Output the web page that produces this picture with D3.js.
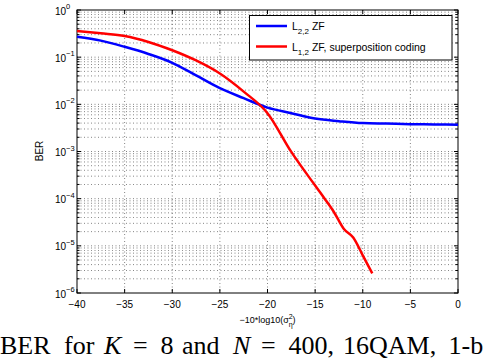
<!DOCTYPE html>
<html><head><meta charset="utf-8">
<script src="https://cdn.jsdelivr.net/npm/d3@7"></script>
<style>body{margin:0;background:#fff}svg{display:block}</style>
</head><body>
<svg id="c" width="490" height="360"></svg>
<script>
const xTicks = [-40,-35,-30,-25,-20,-15,-10,-5,0];
const yExps = [0,-1,-2,-3,-4,-5,-6];

const blueX = [-40,-37.5,-35,-32.5,-30,-27.5,-25,-22.5,-20,-17.5,-15,-12.5,-10,-7.5,-5,-2.5,0];
const blueY = [0.27,0.224,0.166,0.117,0.076,0.041,0.022,0.0135,0.0085,0.0065,0.005,0.0044,0.0040,0.0039,0.0038,0.00375,0.0037];

const redX = [-40,-37.5,-35,-32.5,-30,-27.5,-25,-22.5,-20,-17.5,-15,-14,-13,-12,-11,-10,-9];
const redY = [0.36,0.32,0.28,0.21,0.14,0.085,0.045,0.0186,0.0065,0.00098,0.00019,0.0001,0.000051,0.000023,0.000015,0.0000063,0.0000026];

const seriesNames = ["L_{2,2} ZF","L_{1,2} ZF, superposition coding"];

const svg = d3.select("#c");
const L=77,R=458,T=10,B=293;
const x = d3.scaleLinear().domain([-40,0]).range([L,R]);
const y = d3.scaleLog().domain([1e-6,1]).range([B,T]);

// grid
const g = svg.append("g");
const gridStyle = s => s.attr("stroke","#000").attr("stroke-width",0.8).attr("stroke-dasharray","1,2.5").attr("opacity",0.6);
xTicks.slice(1,-1).forEach(v=>{
  g.append("line").attr("x1",x(v)).attr("x2",x(v)).attr("y1",T).attr("y2",B).call(gridStyle);
});
const minor=[];
for(let e=-6;e<0;e++){ for(let m=1;m<10;m++){ minor.push(m*Math.pow(10,e)); } }
minor.forEach(v=>{
  if(v<=1e-6*1.0001) return;
  g.append("line").attr("x1",L).attr("x2",R).attr("y1",y(v)).attr("y2",y(v)).call(gridStyle);
});

// ticks
const tk = svg.append("g").attr("stroke","#000").attr("stroke-width",1);
xTicks.forEach(v=>{
  tk.append("line").attr("x1",x(v)).attr("x2",x(v)).attr("y1",B).attr("y2",B-4);
  tk.append("line").attr("x1",x(v)).attr("x2",x(v)).attr("y1",T).attr("y2",T+4);
});
minor.concat([1]).forEach(v=>{
  const major = Math.abs(Math.log10(v)-Math.round(Math.log10(v)))<1e-9;
  const len = major?4:2.5;
  tk.append("line").attr("x1",L).attr("x2",L+len).attr("y1",y(v)).attr("y2",y(v));
  tk.append("line").attr("x1",R).attr("x2",R-len).attr("y1",y(v)).attr("y2",y(v));
});

// frame
svg.append("rect").attr("x",L).attr("y",T).attr("width",R-L).attr("height",B-T)
  .attr("fill","none").attr("stroke","#000").attr("stroke-width",1);

// lines
const line = d3.line().x(d=>x(d[0])).y(d=>y(d[1])).curve(d3.curveMonotoneX);
svg.append("path").datum(blueX.map((v,i)=>[v,blueY[i]])).attr("d",line)
  .attr("fill","none").attr("stroke","#0000ff").attr("stroke-width",2.5);
svg.append("path").datum(redX.map((v,i)=>[v,redY[i]])).attr("d",line)
  .attr("fill","none").attr("stroke","#ff0000").attr("stroke-width",2.5);

const font = "'Liberation Sans', Arial, sans-serif";
// x tick labels
xTicks.forEach(v=>{
  svg.append("text").attr("x",x(v)).attr("y",307.5).attr("text-anchor","middle")
    .attr("font-family",font).attr("font-size",10)
    .text(v<0?"\u2212"+Math.abs(v):String(v));
});
// y tick labels
yExps.forEach(e=>{
  svg.append("text").attr("x",66).attr("y",y(Math.pow(10,e))+4.5).attr("text-anchor","end")
    .attr("font-family",font).attr("font-size",10).text("10");
  svg.append("text").attr("x",66).attr("y",y(Math.pow(10,e))-1)
    .attr("font-family",font).attr("font-size",7.5).text(e<0?"\u2212"+Math.abs(e):String(e));
});
// axis labels
const xl = svg.append("text").attr("x",267.5).attr("y",323).attr("text-anchor","middle")
  .attr("font-family",font).attr("font-size",9);
xl.append("tspan").text("\u221210*log10(\u03c3");
xl.append("tspan").attr("font-size",7).attr("dy",-4).text("2");
xl.append("tspan").attr("font-size",7).attr("dx",-4).attr("dy",8).text("\u03b7");
xl.append("tspan").attr("dy",-4).text(")");
svg.append("text").attr("transform","translate(43,151) rotate(-90)").attr("text-anchor","middle")
  .attr("font-family",font).attr("font-size",10).text("BER");

// legend
const lg = svg.append("g");
lg.append("rect").attr("x",249.5).attr("y",15.5).attr("width",202.5).attr("height",44.5)
  .attr("fill","#fff").attr("stroke","#000").attr("stroke-width",1);
const legColors=["#0000ff","#ff0000"];
const legY=[26,46.5];
seriesNames.forEach((n,i)=>{
  lg.append("line").attr("x1",256).attr("x2",287).attr("y1",legY[i]).attr("y2",legY[i])
    .attr("stroke",legColors[i]).attr("stroke-width",2.5);
  const m = n.match(/^L_\{(.*?)\}(.*)$/);
  const t = lg.append("text").attr("x",292).attr("y",legY[i]+4).attr("font-family",font).attr("font-size",10.5);
  t.append("tspan").text("L");
  t.append("tspan").attr("font-size",8).attr("dy",4).text(m[1]);
  t.append("tspan").attr("dy",-4).text(m[2]);
});

// caption (word positions follow LaTeX spacing)
const capWords = [["BER",0,false],["for",64,false],["K",104,true],["=",133,false],["8",160.5,false],["and",182,false],["N",233,true],["=",261,false],["400,",288.5,false],["16QAM,",343,false],["1-b",448.5,false]];
const cap = svg.append("text").attr("y",354).attr("font-family","'Liberation Serif','Times New Roman',serif").attr("font-size",26);
capWords.forEach(w=>{
  cap.append("tspan").attr("x",w[1]).attr("font-style",w[2]?"italic":"normal").text(w[0]);
});
</script>
</body></html>
